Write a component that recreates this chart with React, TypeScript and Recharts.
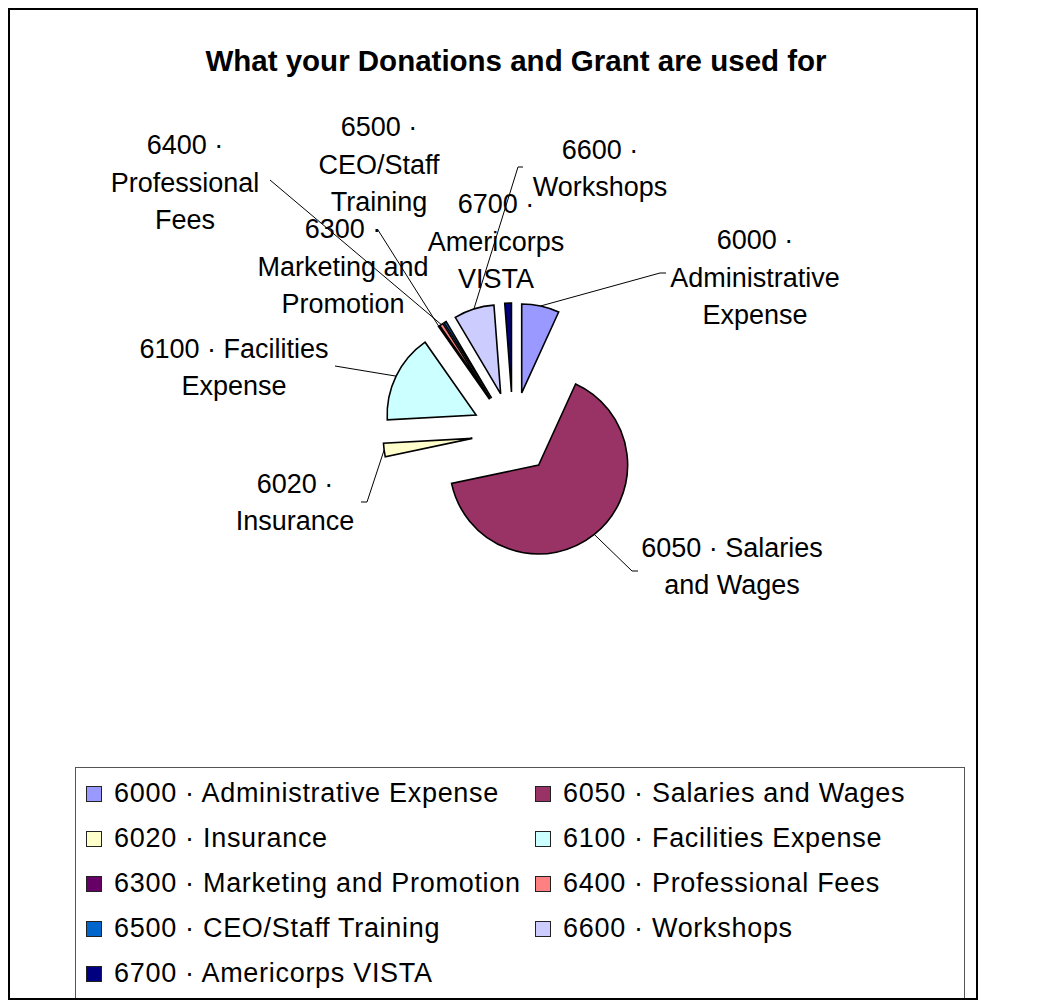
import { PieChart, Pie, Cell, Sector, Legend, Tooltip } from 'recharts'

const CATEGORIES = [
    '6000 · Administrative Expense',
    '6050 · Salaries and Wages',
    '6020 · Insurance',
    '6100 · Facilities Expense',
    '6300 · Marketing and Promotion',
    '6400 · Professional Fees',
    '6500 · CEO/Staff Training',
    '6600 · Workshops',
    '6700 · Americorps VISTA',
]
// share of spending, in percent
const AMOUNTS = [6.8, 64.7, 2.45, 16.1, 0.1, 0.65, 0.45, 7.3, 1.2]
const COLORS = ['#9999FF', '#993366', '#FFFFCC', '#CCFFFF', '#660066', '#FF8080', '#0066CC', '#CCCCFF', '#000080']
const LABEL_LINES = [
    ['6000 ·', 'Administrative', 'Expense'],
    ['6050 · Salaries', 'and Wages'],
    ['6020 ·', 'Insurance'],
    ['6100 · Facilities', 'Expense'],
    ['6300 ·', 'Marketing and', 'Promotion'],
    ['6400 ·', 'Professional', 'Fees'],
    ['6500 ·', 'CEO/Staff', 'Training'],
    ['6600 ·', 'Workshops'],
    ['6700 ·', 'Americorps', 'VISTA'],
]

// label layout (Excel placed these by hand), relative to the pie centre
const LABEL_OFFSET = [[242, -156], [219, 133], [-218, 69], [-279, -66], [-170, -167], [-328, -251], [-134, -269], [87, -265], [-17, -192]]
const LEADER_END: number[][][] = [
    [[147, -160], [153, -160]],
    [[119, 138], [125, 138]],
    [[-146, 69], [-152, 69]],
    [[-178, -67]],
    [[-135, -203]],
    [[-243, -253]],
    [],
    [[5, -266], [10, -266]],
    [],
]

const FONT = '"Liberation Sans", Arial, sans-serif'
const RAD = Math.PI / 180
const EXPLODE = 41
const RADIUS = 89
const LABEL_SIZE = 27
const LINE_H = 37.5

const data = CATEGORIES.map((name, i) => ({ name, value: AMOUNTS[i], fill: COLORS[i] }))

function ExplodedSector(props: any) {
    const { cx, cy, midAngle } = props
    const dx = Math.cos(-midAngle * RAD) * EXPLODE
    const dy = Math.sin(-midAngle * RAD) * EXPLODE
    return <Sector {...props} cx={cx + dx} cy={cy + dy} stroke="#000" strokeWidth={1.6} />
}

function renderLabel(props: any) {
    const { cx, cy, midAngle, outerRadius, index } = props
    const lines = LABEL_LINES[index]
    const [ox, oy] = LABEL_OFFSET[index]
    const r = outerRadius + EXPLODE
    const sx = cx + Math.cos(-midAngle * RAD) * r
    const sy = cy + Math.sin(-midAngle * RAD) * r
    const leader = LEADER_END[index]
    const pts = [[sx, sy], ...leader.map(([x, y]) => [cx + x, cy + y])]
    const top = cy + oy - ((lines.length - 1) / 2) * LINE_H
    return (
        <g key={`lbl-${index}`}>
            {leader.length > 0 && (
                <polyline points={pts.map(p => p.join(',')).join(' ')} fill="none" stroke="#000" strokeWidth={1} />
            )}
            {lines.map((t, j) => (
                <text key={j} x={cx + ox} y={top + j * LINE_H + LABEL_SIZE * 0.36} textAnchor="middle"
                    fontFamily={FONT} fontSize={LABEL_SIZE} fill="#000" stroke="none">
                    {t}
                </text>
            ))}
        </g>
    )
}

function renderLegend(props: any) {
    const { payload } = props
    const items = [...(payload || [])].sort(
        (a: any, b: any) => CATEGORIES.indexOf(a.value) - CATEGORIES.indexOf(b.value))
    return (
        <div style={{
            width: 890, height: 240, boxSizing: 'border-box', border: '1.5px solid #555', background: '#fff',
            display: 'grid', gridTemplateColumns: '449px 1fr', gridAutoRows: '45px', padding: '3px 0 0 10px',
            fontFamily: FONT, fontSize: LABEL_SIZE, color: '#000', letterSpacing: '0.7px',
        }}>
            {items.map((p: any) => (
                <div key={p.value} style={{ display: 'flex', alignItems: 'center', whiteSpace: 'nowrap' }}>
                    <span style={{
                        display: 'inline-block', width: 14, height: 14,
                        background: COLORS[CATEGORIES.indexOf(p.value)] ?? p.color,
                        border: '1.5px solid #222', marginRight: 12,
                    }} />
                    {p.value}
                </div>
            ))}
        </div>
    )
}

export default function App() {
    return (
        <div style={{
            position: 'relative', width: 970, height: 992, boxSizing: 'border-box', border: '2px solid #000',
            background: '#fff', overflow: 'hidden',
        }}>
            <div style={{
                position: 'absolute', left: 0, width: 1012, top: 36, textAlign: 'center', fontFamily: FONT,
                fontWeight: 'bold', fontSize: 29.5, lineHeight: '29px', color: '#000', zIndex: 2,
            }}>
                What your Donations and Grant are used for
            </div>
            <PieChart width={966} height={988} margin={{ top: 0, right: 0, bottom: 0, left: 0 }}>
                <Pie
                    data={data}
                    dataKey="value"
                    nameKey="name"
                    cx={503}
                    cy={423}
                    outerRadius={RADIUS}
                    startAngle={90}
                    endAngle={-270}
                    isAnimationActive={false}
                    shape={ExplodedSector}
                    activeShape={ExplodedSector}
                    inactiveShape={ExplodedSector}
                    label={renderLabel}
                    labelLine={false}
                    stroke="#000"
                    strokeWidth={1.6}
                >
                    {data.map((d, i) => <Cell key={i} fill={COLORS[i]} />)}
                </Pie>
                <Tooltip defaultIndex={0} content={() => null} />
                <Legend verticalAlign="bottom" content={renderLegend} itemSorter={null}
                    wrapperStyle={{ left: 65, top: 757, bottom: 'auto', width: 890 }} />
            </PieChart>
        </div>
    )
}
